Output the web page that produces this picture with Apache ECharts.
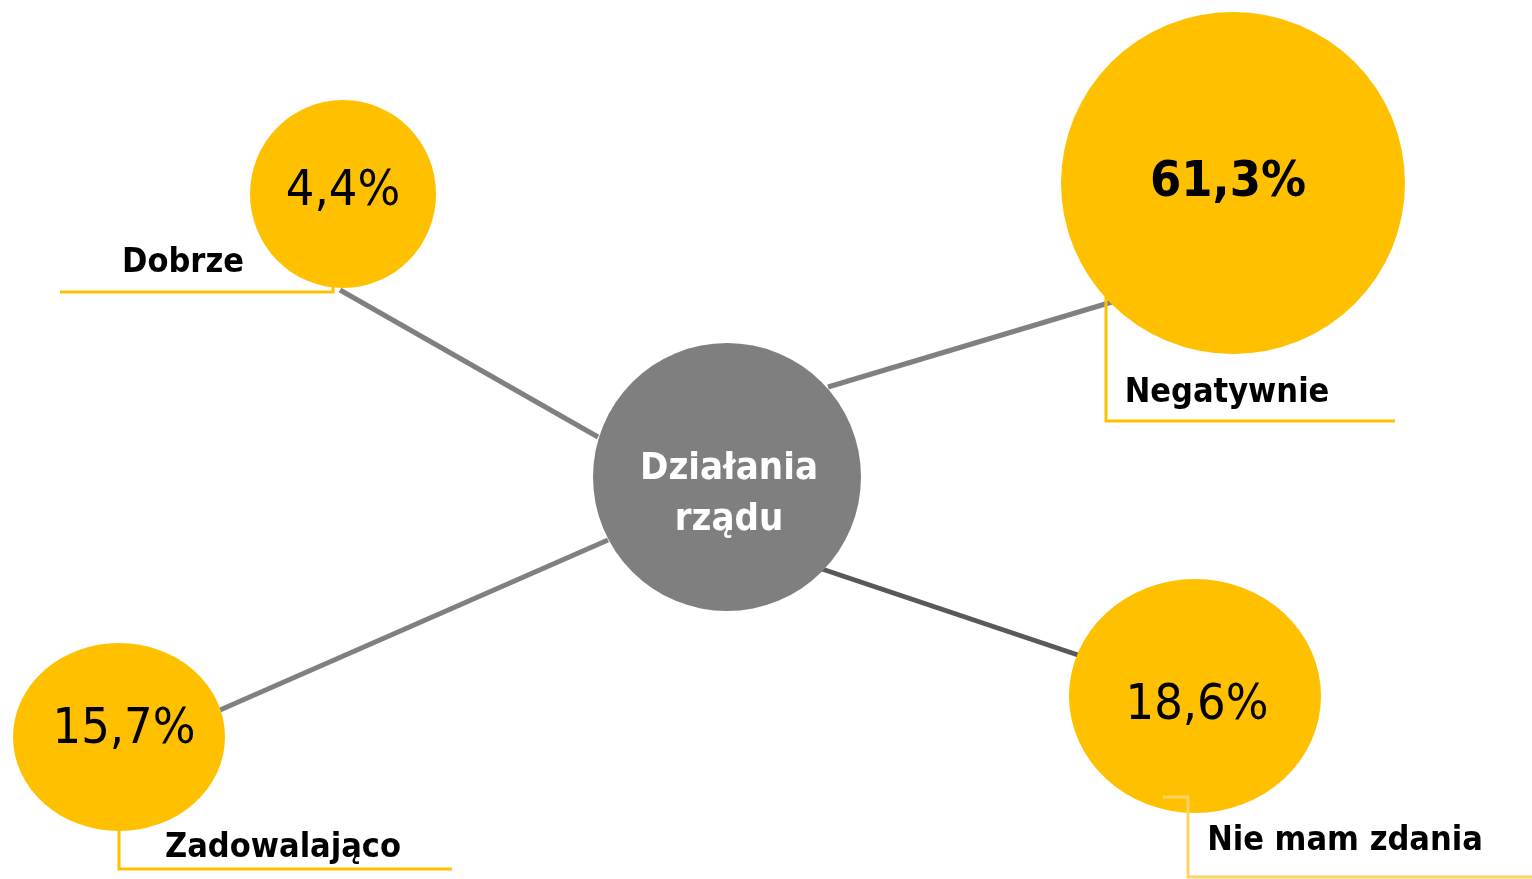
<!DOCTYPE html>
<html>
<head>
<meta charset="utf-8">
<script src="https://cdn.jsdelivr.net/npm/echarts@6/dist/echarts.min.js"></script>
<style>
  html, body { margin: 0; padding: 0; background: #fff; }
  #chart { width: 1532px; height: 879px; }
</style>
</head>
<body>
<div id="chart"></div>
<script>
// dane
const categories = ['Dobrze', 'Negatywnie', 'Zadowalająco', 'Nie mam zdania']
const values = [4.4, 61.3, 15.7, 18.6]
const centerLabel = 'Działania\nrządu'

// układ (piksele, osie 1:1 z oknem)
const nodePos = [[343, 194], [1233, 183], [119, 737], [1195, 696]]
const nodeSize = [[186, 188], [344, 342], [212, 188], [252, 234]]
const valueOffset = [[0, -2], [-5, 0], [5, -7], [2, 10]]
const centerPos = [727, 477]
const centerSize = 268
const connectors = [
  [[340, 290], [598, 437]],
  [[828, 387], [1112, 302]],
  [[220, 710], [608, 540]],
  [[822, 569], [1078, 655]]
]
const connectorColors = ['#808080', '#808080', '#808080', '#595959']
const brackets = [
  [[60, 292], [333, 292], [333, 287]],
  [[1087, 244], [1106, 244], [1106, 421], [1395, 421]],
  [[119, 831], [119, 869], [452, 869]],
  [[1163, 797], [1188, 797], [1188, 877], [1532, 877]]
]
const bracketColors = ['#FFC000', '#FFC000', '#FFC000', '#FFD466']
const labelPos = [[183, 263], [1227, 393], [283, 848], [1345, 841]]

const font = '"DejaVu Sans Condensed", "DejaVu Sans", sans-serif'
const fmt = (v) => v.toFixed(1).replace('.', ',') + '%'

const chart = echarts.init(document.getElementById('chart'))
const option = {
  animation: false,
  grid: { left: 0, right: 0, top: 0, bottom: 0 },
  xAxis: { type: 'value', min: 0, max: 1532, show: false },
  yAxis: { type: 'value', min: 0, max: 879, inverse: true, show: false },
  series: [
    {
      // łączniki
      type: 'lines',
      coordinateSystem: 'cartesian2d',
      z: 1,
      data: connectors.map((c, i) => ({
        coords: c,
        lineStyle: { color: connectorColors[i], width: 5, opacity: 1 }
      }))
    },
    {
      // środek
      type: 'scatter',
      z: 2,
      symbol: 'circle',
      symbolSize: centerSize,
      itemStyle: { color: '#7F7F7F', opacity: 1 },
      label: {
        show: true,
        position: 'inside',
        offset: [2, 18],
        formatter: centerLabel,
        color: '#fff',
        fontFamily: font,
        fontWeight: 'bold',
        fontSize: 38,
        lineHeight: 51
      },
      data: [centerPos]
    },
    {
      // bąble
      type: 'scatter',
      z: 2,
      symbol: 'circle',
      itemStyle: { color: '#FFC000', opacity: 1 },
      data: values.map((v, i) => ({
        value: [nodePos[i][0], nodePos[i][1], v],
        symbolSize: nodeSize[i],
        label: {
          show: true,
          position: 'inside',
          offset: valueOffset[i],
          formatter: fmt(v),
          color: '#000',
          fontFamily: font,
          fontWeight: i === 1 ? 'bold' : 'normal',
          fontSize: 50
        }
      }))
    },
    {
      // ramki etykiet
      type: 'lines',
      coordinateSystem: 'cartesian2d',
      polyline: true,
      z: 3,
      data: brackets.map((b, i) => ({
        coords: b,
        lineStyle: { color: bracketColors[i], width: 3, opacity: 1 }
      }))
    },
    {
      // nazwy kategorii
      type: 'scatter',
      z: 4,
      symbolSize: 0,
      itemStyle: { opacity: 1 },
      label: {
        show: true,
        position: 'inside',
        color: '#000',
        fontFamily: font,
        fontWeight: 'bold',
        fontSize: 34,
        formatter: (p) => categories[p.dataIndex]
      },
      data: labelPos
    }
  ]
}
chart.setOption(option)
window.addEventListener('resize', function () {
  chart.resize()
})
</script>
</body>
</html>
